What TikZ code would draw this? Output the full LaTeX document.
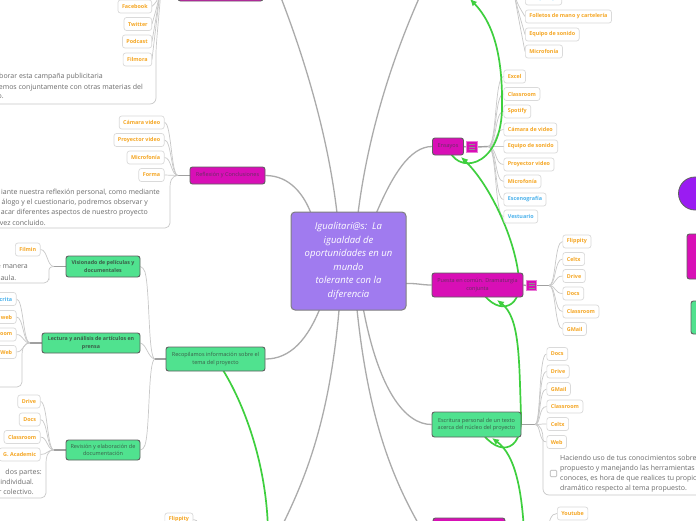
\documentclass[tikz,border=0pt]{standalone}
\usepackage{fontspec}
\setmainfont{Open Sans}
\usetikzlibrary{arrows.meta,calc}
\definecolor{purp}{HTML}{A07BEF}
\definecolor{mag}{HTML}{D80FB6}
\definecolor{grn}{HTML}{50E28F}
\definecolor{boxborder}{HTML}{5F5F5F}
\definecolor{magtext}{HTML}{6A2D63}
\definecolor{grntext}{HTML}{3A5E48}
\definecolor{orng}{HTML}{F5A623}
\definecolor{blu}{HTML}{4CB2EC}
\definecolor{kidborder}{HTML}{DADADA}
\definecolor{klc}{HTML}{C8C8C8}
\definecolor{stemc}{HTML}{A0A0A0}
\definecolor{mlc}{HTML}{ABABAB}
\definecolor{relg}{HTML}{3ECF3E}
\definecolor{notegray}{HTML}{6B6B6B}
\definecolor{violetc}{HTML}{9A1CF2}
\pgfdeclarelayer{back}
\pgfdeclarelayer{bg}
\pgfsetlayers{back,bg,main}
\tikzset{
  kid/.style={draw=kidborder, line width=0.7pt, fill=white, rounded corners=2.5pt,
    font=\fontsize{5.4}{6}\selectfont\bfseries, text=orng, inner xsep=4pt, inner ysep=0pt,
    minimum height=13pt},
  mbox/.style={draw=boxborder, line width=0.9pt, rounded corners=2.5pt,
    font=\fontsize{5.5}{7.6}\selectfont, align=center, inner sep=0pt},
  magbox/.style={mbox, fill=mag, text=magtext},
  grnbox/.style={mbox, fill=grn, text=grntext},
  cbox/.style={draw=boxborder!80, line width=1pt, fill=purp, rounded corners=4pt, text=white,
    font=\fontsize{9.5}{13.6}\selectfont\itshape, align=center, minimum width=115pt,
    minimum height=98pt, inner sep=0pt},
  iconbox/.style={draw=mag!55!white, line width=0.6pt, fill=mag, minimum size=11pt, inner sep=0pt},
  notetxt/.style={font=\fontsize{7}{10}\selectfont, text=notegray, inner sep=0pt},
  kl/.style={draw=klc, line width=0.7pt},
  stemline/.style={draw=stemc, line width=1.4pt},
  ml/.style={draw=mlc, line width=1.3pt},
  rel/.style={draw=relg, line width=1.7pt},
  relarrow/.style={rel, -{Latex[length=7pt,width=6.5pt]}},
}
\begin{document}
\begin{tikzpicture}[x=1pt,y=-1pt]
\useasboundingbox (0,0) rectangle (696,520);
\clip (0,0) rectangle (696,520);
\begin{pgfonlayer}{back}
\fill[white] (0,0) rectangle (696,520);
\end{pgfonlayer}

% ---------- main nodes ----------
\node[cbox] (c) at (348.5,261) {Igualitari@s:\ \ La\\igualdad de\\oportunidades en un\\mundo\\tolerante con la\\diferencia};
\node[magbox, minimum width=85pt, minimum height=23pt] (tl) at (220.5,-10.5) {};
\node[magbox, minimum width=75pt, minimum height=17pt] (rf) at (227.5,175.5) {Reflexión y Conclusiones};
\node[magbox, minimum width=31pt, minimum height=17pt] (ens) at (448,146.5) {Ensayos};
\node[iconbox] (ei) at (471.5,147) {};
\node[magbox, minimum width=91pt, minimum height=24pt] (pue) at (477.5,285) {Puesta en común. Dramaturgia\\conjunta};
\node[iconbox, minimum size=10.5pt] (pi) at (531.5,285.5) {};
\node[grnbox, minimum width=89pt, minimum height=25pt] (esc) at (476.5,424.5) {Escritura personal de un texto\\acerca del núcleo del proyecto};
\node[grnbox, minimum width=99pt, minimum height=24pt] (rec) at (215.5,359) {Recopilamos información sobre el\\tema del proyecto};
\node[grnbox, minimum width=74pt, minimum height=21pt, font=\fontsize{5.3}{7.6}\selectfont\bfseries] (vis) at (103,266.5) {Visionado de películas y\\documentales};
\node[grnbox, minimum width=98pt, minimum height=20pt, font=\fontsize{5.3}{7.6}\selectfont\bfseries] (lec) at (91,343) {Lectura y análisis de artículos en\\prensa};
\node[grnbox, minimum width=74pt, minimum height=20pt] (rev) at (103,450) {Revisión y elaboración de\\documentación};
\node[magbox, minimum width=72pt, minimum height=27pt] (brn) at (469,531.5) {};

% icon lines
\foreach \d in {-2.5,0,2.5} {
  \draw[boxborder!70, line width=0.5pt] ([xshift=-3pt,yshift=\d pt]ei.center) -- ++(6,0);
  \draw[boxborder!70, line width=0.5pt] ([xshift=-3pt,yshift=\d pt]pi.center) -- ++(6,0);
}

% ---------- legend shapes (right edge) ----------
\node[draw=boxborder, line width=0.8pt, fill=violetc, circle, minimum size=33pt, inner sep=0pt] (lg1) at (695,193.5) {};
\node[magbox, minimum width=20pt, minimum height=45pt] (lg2) at (697,256.5) {};
\node[grnbox, minimum width=16pt, minimum height=33pt] (lg3) at (699,317.5) {};

% ---------- children ----------
% Ensayos
\foreach \t/\y/\c [count=\i] in {Excel/76.5/orng, Classroom/94/orng, Spotify/111.5/orng,
  Cámara de video/129.5/orng, Equipo de sonido/146.5/orng, Proyector video/164.5/orng,
  Microfonía/181.5/orng, Escenografía/199.5/blu, Vestuario/216.5/blu}
  \node[kid, anchor=west, text=\c] (ek\i) at (503.5,\y) {\t};
% top right group
\foreach \t/\y/\c [count=\i] in {Maquillaje/-1.5/blu, Folletos de mano y cartelería/16.5/orng,
  Equipo de sonido/34.5/orng, Microfonía/51.5/orng}
  \node[kid, anchor=west, text=\c] (tk\i) at (525,\y) {\t};
% Puesta
\foreach \t/\y [count=\i] in {Flippity/241.5, Celtx/259, Drive/276, Docs/293.5, Classroom/311.5, GMail/329}
  \node[kid, anchor=west] (pk\i) at (562.5,\y) {\t};
% Escritura
\foreach \t/\y [count=\i] in {Docs/354, Drive/371.5, GMail/389, Classroom/406.5, Celtx/424, Web/442}
  \node[kid, anchor=west] (sk\i) at (546.5,\y) {\t};
% top left group
\foreach \t/\y [count=\i] in {Facebook/6.5, Twitter/24, Podcast/41.5, Filmora/59.5}
  \node[kid, anchor=east] (lk\i) at (152,\y) {\t};
% Reflexion
\foreach \t/\y [count=\i] in {Cámara video/122.5, Proyector video/140, Microfonía/157.5, Forma/175}
  \node[kid, anchor=east] (rk\i) at (164.5,\y) {\t};
% Visionado
\node[kid, anchor=east] (vk1) at (40.5,249.5) {Filmin};
% Lectura (cut at the left edge)
\node[kid, anchor=east, text=blu] (ak1) at (16.5,299) {\hspace*{14pt}crita};
\node[kid, anchor=east] (ak2) at (16.5,317) {\hspace*{14pt}web};
\node[kid, anchor=east] (ak3) at (16.5,334.5) {\hspace*{14pt}oom};
\node[kid, anchor=east] (ak4) at (16.5,352) {\hspace*{14pt}Web};
% Revision
\foreach \t/\y [count=\i] in {Drive/401.5, Docs/419.5, Classroom/437, G. Academic/454.5}
  \node[kid, anchor=east] (dk\i) at (40.5,\y) {\t};
% bottom partial children
\node[kid, anchor=west] (yt) at (557,513.5) {Youtube};
\node[kid, anchor=west] (fl) at (164.5,519.5) {Flippity};

% ---------- notes ----------
\node[notetxt, anchor=east] (n1a) at (103,77) {borar esta campaña publicitaria};
\node[notetxt, anchor=east] (n1b) at (143,88) {emos conjuntamente con otras materias del};
\node[notetxt, anchor=east] (n1c) at (4,97) {o.};
\node[notetxt, anchor=east] (n2a) at (160,193) {iante nuestra reflexión personal, como mediante};
\node[notetxt, anchor=east] (n2b) at (148,203) {álogo y el cuestionario, podremos observar y};
\node[notetxt, anchor=east] (n2c) at (148,213) {acar diferentes aspectos de nuestro proyecto};
\node[notetxt, anchor=east] (n2d) at (46,223) {vez concluido.};
\node[notetxt, anchor=east] (n3a) at (28,267) {e manera};
\node[notetxt, anchor=east] (n3b) at (16.5,278) {aula.};
\node[notetxt, anchor=east] (n4a) at (42,472.5) {dos partes:};
\node[notetxt, anchor=east] (n4b) at (34,482) {individual.};
\node[notetxt, anchor=east] (n4c) at (34,491.5) {r colectivo.};
\node[notetxt, anchor=west, align=left] (n5) at (560,474) {Haciendo uso de tus conocimientos sobre\\propuesto y manejando las herramientas\\conoces, es hora de que realices tu propio\\dramático respecto al tema propuesto.};
\node[draw=gray!60, line width=0.6pt, rounded corners=1pt, minimum size=6.5pt, inner sep=0pt, fill=white] (cb) at (553.5,473.5) {};

% ---------- coordinates ----------
\coordinate (es) at (488,146.5);
\coordinate (ps) at (549,285.5);
\coordinate (ss) at (535,424.5);
\coordinate (trs) at (511,-30);
\coordinate (tls) at (162,-30);
\coordinate (rs) at (178,175.5);
\coordinate (vs) at (54,266.5);
\coordinate (ls) at (30,343);
\coordinate (rvs) at (54,450);
\coordinate (recs) at (155,359);
\coordinate (tlend) at (276,-15);
\coordinate (trend) at (425,-15);
\coordinate (blend) at (280,530);
\coordinate (brend) at (422,530);
\coordinate (recend) at (268,530);
\coordinate (zstart) at (525,560);

\begin{pgfonlayer}{bg}
% central connectors
\draw[ml] ($(c.north west)+(22,6)$) .. controls (305,195) and (290,175.5) .. (rf.east);
\draw[ml] ($(c.north west)+(47,6)$) .. controls (328,130) and (300,45) .. (tlend);
\draw[ml] ($(c.north west)+(67,6)$) .. controls (368,130) and (395,50) .. (trend);
\draw[ml] ($(c.north west)+(84,6)$) .. controls (392,175) and (410,146.5) .. (ens.west);
\draw[ml] ($(c.south east)+(-4,-27)$) .. controls (418,283) and (420,285) .. (pue.west);
\draw[ml] ($(c.south west)+(31,-6)$) .. controls (308,340) and (290,359) .. (rec.east);
\draw[ml] ($(c.south west)+(49,-6)$) .. controls (330,420) and (305,480) .. (blend);
\draw[ml] ($(c.south west)+(66,-6)$) .. controls (368,420) and (393,480) .. (brend);
\draw[ml] ($(c.south west)+(72,-6)$) .. controls (378,390) and (405,424.5) .. (esc.west);

% stems
\draw[stemline] (ei.east) -- (es);
\draw[stemline] (pi.east) -- (ps);
\draw[stemline] (esc.east) -- (ss);
\draw[stemline] (rf.west) -- (rs);
\draw[stemline] (vis.west) -- (vs);
\draw[stemline] (lec.west) -- (ls);
\draw[stemline] (rev.west) -- (rvs);
\draw[stemline] (rec.west) -- (recs);
\draw[stemline] (ens.east) -- (ei.west);
\draw[stemline] (pue.east) -- (pi.west);

% child lines
\foreach \i in {1,...,9} \draw[kl] (es) .. controls +(9,0) and +(-9,0) .. (ek\i.west);
\foreach \i in {1,...,4} \draw[kl] (trs) .. controls (515,0) and (515,0) .. (tk\i.west);
\foreach \i in {1,...,6} \draw[kl] (ps) .. controls +(7,0) and +(-8,0) .. (pk\i.west);
\foreach \i in {1,...,6} \draw[kl] (ss) .. controls +(6,0) and +(-8,0) .. (sk\i.west);
\foreach \i in {1,...,4} \draw[kl] (tls) .. controls (160,-5) and (159,0) .. (lk\i.east);
\foreach \i in {1,...,4} \draw[kl] (rs) .. controls +(-7,0) and +(7,0) .. (rk\i.east);
\draw[kl] (vs) .. controls +(-7,0) and +(7,0) .. (vk1.east);
\foreach \i in {1,...,4} \draw[kl] (ls) .. controls +(-7,0) and +(7,0) .. (ak\i.east);
\foreach \i in {1,...,4} \draw[kl] (rvs) .. controls +(-7,0) and +(7,0) .. (dk\i.east);
\draw[kl] (recs) .. controls (148,359) and (150,290) .. (145,272) .. controls (143,268) .. (vis.east);
\draw[kl] (recs) .. controls (148,358) and (147,345) .. (lec.east);
\draw[kl] (recs) .. controls (148,359) and (150,430) .. (145,445) .. controls (143,449) .. (rev.east);
\draw[kl] (yt.west) .. controls (551,513.5) and (549,520) .. (547,535);
\draw[kl] (fl.east) .. controls (198,519.5) and (200,525) .. (203,535);

% note borders
\draw[kl, rounded corners=6pt] (tls) .. controls (161,0) and (156,40) .. (156,60) -- (156,104) -- (-5,104);
\draw[kl, rounded corners=5pt] (rs) .. controls (171,176) and (170,182) .. (170,192) -- (170,228) -- (-5,228);
\draw[kl, rounded corners=5pt] (vs) .. controls (49,266.5) and (49,270) .. (49,275) -- (49,283) -- (-5,283);
\draw[kl, rounded corners=5pt] (ls) .. controls (23,343) and (22,350) .. (22,360) -- (22,387) -- (-5,387);
\draw[kl, rounded corners=5pt] (rvs) .. controls (47,450) and (46,458) .. (46,468) -- (46,498) -- (-5,498);
\draw[kl, rounded corners=6pt] (ss) .. controls (541,424.5) and (543,432) .. (543,445) -- (543,495) -- (700,495);

% relationship lines (green)
\draw[relarrow] (ens.center) .. controls (455,175) and (500,170) .. (502,110) .. controls (503,60) and (495,25) .. (470,-1);
\draw[relarrow] (pue.center) .. controls (495,318) and (522,310) .. (519,280) .. controls (516,240) and (490,185) .. (461,157);
\draw[relarrow] (esc.center) .. controls (495,458) and (523,455) .. (521,415) .. controls (519,360) and (520,318) .. (497,300);
\draw[relarrow] (zstart) .. controls (524,490) and (515,455) .. (492,438);
\draw[rel] (rec.center) .. controls (235,385) and (266,450) .. (recend);
\end{pgfonlayer}
\end{tikzpicture}
\end{document}
